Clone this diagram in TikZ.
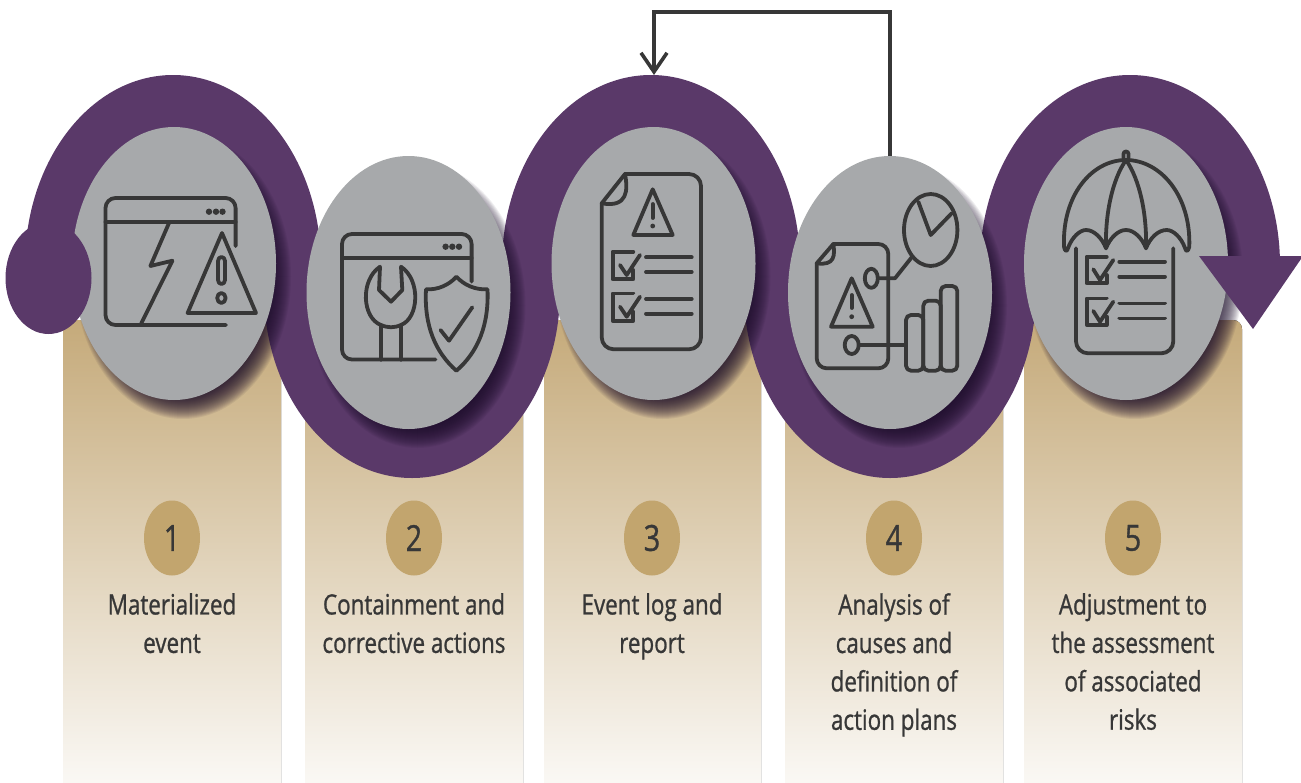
\documentclass[tikz,border=0pt]{standalone}
\usepackage{fontspec}
\setmainfont[FakeStretch=0.8,FakeBold=0.9]{Open Sans}
\usetikzlibrary{shapes.geometric,arrows.meta}
\definecolor{purp}{HTML}{5A3969}
\definecolor{shd}{HTML}{1C0E2A}
\definecolor{gry}{HTML}{A7A9AB}
\definecolor{ink}{HTML}{373737}
\definecolor{bgtop}{HTML}{C5AA7A}
\definecolor{bgbot}{HTML}{FCFBF9}
\definecolor{badge}{HTML}{C2A56E}
\tikzset{
  column/.style={rounded corners=9pt,top color=bgtop,bottom color=bgbot,draw=none},
  disc/.style={ellipse,fill=gry,draw=none,minimum width=204pt,minimum height=273pt,inner sep=0pt},
  badgenode/.style={ellipse,fill=badge,draw=none,minimum width=56pt,minimum height=75pt,inner sep=0pt,text=ink,font=\fontsize{36}{36}\selectfont},
  caption/.style={anchor=north,align=center,text=ink,inner sep=0pt,font=\fontsize{28}{38.4}\selectfont},
  icon/.style={draw=ink,line width=3.8pt,line cap=round,line join=round},
  dotfill/.style={fill=ink,draw=none},
  conn/.style={draw=ink,line width=3.6pt,-{Straight Barb[length=19pt,width=26pt,line width=3.6pt]}},
}
\newcommand{\softshadow}[2]{%
  \foreach \r in {6,5,...,-16}{\fill[shd,opacity=.07] (#1+9,#2+13) ellipse ({102+\r} and {136.5+\r});}}
\begin{document}
\begin{tikzpicture}[x=1pt,y=-1pt]
\useasboundingbox (0,0) rectangle (1301,782);
% columns
\fill[column] (63,320) rectangle (281,800);
\fill[column] (305,320) rectangle (523,800);
\fill[column] (544,320) rectangle (761,800);
\fill[column] (785,320) rectangle (1003,800);
\fill[column] (1024,320) rectangle (1242,800);
% band
\begin{scope}\clip (0,0) rectangle (1301,300);
 \begin{scope}\clip (173,0) rectangle (500,300) (0,0) rectangle (173,250);
 \fill[purp] (173,265) ellipse (148 and 190);\end{scope}
 \fill[purp] (651,265) ellipse (149 and 190);
\end{scope}
\begin{scope}\clip (0,250) rectangle (1301,800);
 \fill[purp] (412,291) ellipse (148 and 187);
 \fill[purp] (890,291) ellipse (146 and 187);
\end{scope}
\begin{scope}\clip (900,0) rectangle (1301,256);
 \fill[purp] (1130,265) ellipse (150 and 190);
\end{scope}
% discs
\softshadow{174}{263.5}\node[disc] (g1) at (174,263.5) {};
\softshadow{408.5}{292.5}\node[disc] (g2) at (408.5,292.5) {};
\softshadow{653.5}{263.5}\node[disc] (g3) at (653.5,263.5) {};
\softshadow{890}{292.5}\node[disc] (g4) at (890,292.5) {};
\softshadow{1126}{263.5}\node[disc] (g5) at (1126,263.5) {};
% band ends
\fill[purp] (48.5,278) ellipse (43 and 56);
\fill[purp] (1199,256) -- (1303,256) -- (1253,329) -- cycle;
% loop connector
\coordinate (looptop) at (654,12);
\coordinate (ringtop) at (654,75);
\draw[conn] (g4.north) |- (looptop) -- (ringtop);
% icon 1
\draw[icon] (235.6,246) -- (235.6,208) arc[start angle=0,end angle=-90,x radius=10,y radius=10] -- (115.5,198) arc[start angle=-90,end angle=-180,radius=10] -- (105.5,315) arc[start angle=180,end angle=90,radius=10] -- (226,325);
\draw[icon] (105.5,221.7) -- (235.6,221.7);
\foreach \x in {209,216,222.5}\fill[dotfill] (\x,211.7) circle (3.2);
\draw[icon] (169,223) -- (150.4,266) -- (172.4,260.7) -- (141.3,323.3);
\draw[icon] (222,233) -- (187.6,313) -- (256,313) -- cycle;
\draw[icon] (218,261) arc[start angle=180,end angle=360,x radius=3.5,y radius=4] -- (225,280) arc[start angle=0,end angle=180,x radius=3.5,y radius=4] -- cycle;
\draw[icon] (221.4,298) ellipse (4.2 and 5);
% icon 2
\draw[icon] (471.6,281.7) -- (471.6,244) arc[start angle=0,end angle=-90,radius=10] -- (352,234) arc[start angle=-90,end angle=-180,radius=10] -- (342,349.5) arc[start angle=180,end angle=90,radius=10] -- (435.4,359.5);
\draw[icon] (342,258) -- (471.6,258);
\foreach \x in {445.6,452.3,459}\fill[dotfill] (\x,246.7) circle (3.2);
\draw[icon] (380,266.7) .. controls (360,280) and (362,318) .. (381,325) -- (381,360);
\draw[icon] (401,266.7) .. controls (421,280) and (419,318) .. (401,325) -- (401,360);
\draw[icon] (381,325) .. controls (388,328) and (394,328) .. (401,325);
\draw[icon] (380,266.7) -- (379,290) -- (391,301.7) -- (402.3,290) -- (401,266.7);
\draw[icon] (456.4,276.7) .. controls (449,285) and (438,290) .. (426,289.3) .. controls (424,325) and (435,352) .. (456.4,370.7) .. controls (478,352) and (489,325) .. (487.5,289.3) .. controls (475,290) and (464,285) .. (456.4,276.7) -- cycle;
\draw[icon] (440.5,330) -- (449,340.7) -- (472.3,307.3);
% icon 3
\draw[icon] (625,174) -- (689,174) arc[start angle=-90,end angle=0,radius=12] -- (701,337.3) arc[start angle=0,end angle=90,radius=12] -- (613.7,349.3) arc[start angle=90,end angle=180,radius=12] -- (601.7,203.3) -- cycle;
\draw[icon] (625,174) .. controls (628,190) and (628,208) .. (601.7,203.3);
\draw[icon] (652.7,189.3) -- (633.3,235) -- (672.7,235) -- cycle;
\draw[icon] (652.7,204) -- (652.7,218);
\fill[dotfill] (652.7,226) circle (2.4);
\foreach \d in {0,41.7}{
 \draw[icon] (633.3,251.7+\d) -- (612.7,251.7+\d) -- (612.7,279.3+\d) -- (633.3,279.3+\d) -- (633.3,270+\d);
 \draw[icon] (620,265+\d) -- (626.7,275+\d) -- (640,255+\d);
 \draw[icon] (646,257.3+\d) -- (691.7,257.3+\d);
 \draw[icon] (646,272+\d) -- (691.7,272+\d);
}
% icon 4
\draw[icon] (833.3,244) -- (878.3,244) arc[start angle=-90,end angle=0,radius=10] -- (888.3,358.3) arc[start angle=0,end angle=90,radius=10] -- (826.7,368.3) arc[start angle=90,end angle=180,radius=10] -- (816.7,263.3) -- cycle;
\draw[icon] (833.3,244) .. controls (835,255) and (835,266) .. (816.7,263.3);
\draw[icon] (851.7,278.3) -- (831,326.7) -- (872.7,326.7) -- cycle;
\draw[icon] (851.7,295) -- (851.7,308);
\fill[dotfill] (851.7,316.7) circle (2.4);
\fill[gry] (871.3,278.3) ellipse (6.5 and 9.5);
\draw[icon] (871.3,278.3) ellipse (6.5 and 9.5);
\draw[icon] (878.3,278.3) -- (895,278.3) -- (911.7,257.3);
\draw[icon] (930.7,230) ellipse (26.7 and 36);
\draw[icon] (918.3,201.7) -- (930.7,235) -- (951.7,213.3);
\draw[icon] (858.3,345) -- (906,345);
\fill[gry] (851.7,345) ellipse (7 and 9);
\draw[icon] (851.7,345) ellipse (7 and 9);
\draw[icon,rounded corners=5pt] (906,370.7) rectangle (923.3,315);
\draw[icon,rounded corners=5pt] (923.3,370.7) rectangle (940.7,300.7);
\draw[icon,rounded corners=5pt] (940.7,370.7) rectangle (957.3,286);
% icon 5
\draw[icon] (1126,160) .. controls (1092,160) and (1062,195) .. (1064,246.7) .. controls (1065,252) and (1067,252) .. (1068,248) .. controls (1072,237) and (1080,230) .. (1086,230) .. controls (1094,230) and (1102,238) .. (1106,248.3) .. controls (1110,238) and (1118,230) .. (1126,230) .. controls (1134,230) and (1142,238) .. (1146,248.3) .. controls (1150,238) and (1158,230) .. (1166.7,230) .. controls (1173,230) and (1181,237) .. (1185,248) .. controls (1186,252) and (1188,252) .. (1189.3,246.7) .. controls (1191,195) and (1160,160) .. (1126,160);
\draw[icon] (1126,160) .. controls (1112,180) and (1105,215) .. (1106,248.3);
\draw[icon] (1126,160) .. controls (1140,180) and (1147,215) .. (1146,248.3);
\draw[icon] (1123.5,160) -- (1123.5,154) arc[start angle=180,end angle=360,radius=2.5] -- (1128.5,160);
\draw[icon] (1076,248.3) -- (1076,341.3) arc[start angle=180,end angle=90,radius=12] -- (1161.3,353.3) arc[start angle=90,end angle=0,radius=12] -- (1173.3,248.3);
\foreach \d in {0,41.7}{
 \draw[icon] (1106.7,256.7+\d) -- (1086.7,256.7+\d) -- (1086.7,283.3+\d) -- (1106.7,283.3+\d) -- (1106.7,275+\d);
 \draw[icon] (1093.3,269.3+\d) -- (1100,280+\d) -- (1113.3,260+\d);
 \draw[icon] (1119.3,261.7+\d) -- (1165,261.7+\d);
 \draw[icon] (1119.3,276.7+\d) -- (1165,276.7+\d);
}
% badges and captions
\node[badgenode] (n1) at (172,538) {1};
\node[badgenode] (n2) at (414,538) {2};
\node[badgenode] (n3) at (652,538) {3};
\node[badgenode] (n4) at (894,538) {4};
\node[badgenode] (n5) at (1133,538) {5};
\node[caption] (t1) at (172,593) {Materialized\\event};
\node[caption] (t2) at (414,593) {Containment and\\corrective actions};
\node[caption] (t3) at (652,593) {Event log and\\report};
\node[caption] (t4) at (894,593) {Analysis of\\causes and\\definition of\\action plans};
\node[caption] (t5) at (1133,593) {Adjustment to\\the assessment\\of associated\\risks};
\end{tikzpicture}
\end{document}
